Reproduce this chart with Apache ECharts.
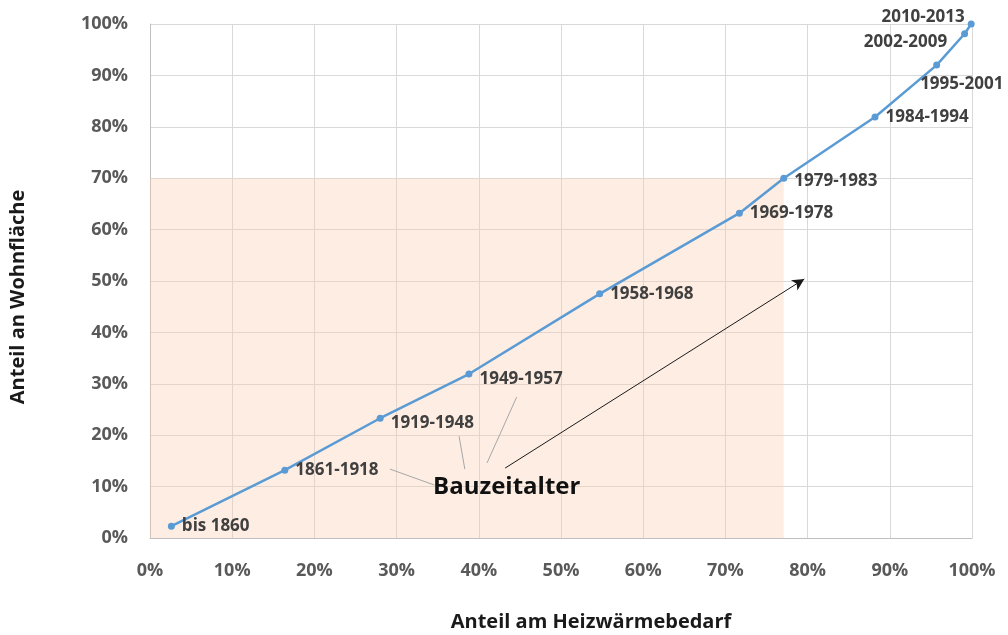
<!DOCTYPE html>
<html><head><meta charset="utf-8">
<script src="https://cdn.jsdelivr.net/npm/echarts@6/dist/echarts.min.js"></script>
<style>html,body{margin:0;padding:0;background:#fff}#c{width:1008px;height:635px}</style>
</head><body><div id="c"></div>
<script>
const periods = ['bis 1860','1861-1918','1919-1948','1949-1957','1958-1968','1969-1978','1979-1983','1984-1994','1995-2001','2002-2009','2010-2013'];
const heatShare = [2.6, 16.4, 28.0, 38.8, 54.7, 71.7, 77.1, 88.2, 95.7, 99.1, 99.9];
const areaShare = [2.3, 13.2, 23.3, 31.9, 47.5, 63.2, 70.0, 81.9, 92.0, 98.1, 100.0];
const xTicks = [0,10,20,30,40,50,60,70,80,90,100];
const yTicks = [0,10,20,30,40,50,60,70,80,90,100];
const shadeArea = [[0,0],[77.1,70]];
const arrowLine = [[43.2,13.6],[79.6,50.4]];
const leaderLines = [
  [[29.2,13.4],[34.6,10.3]],
  [[37.6,19.8],[38.3,13.4]],
  [[44.6,27.4],[41.0,14.6]]
];
const calloutLabel = {text:'Bauzeitalter', at:[43.4, 9.9]};

const labelPos = {
  '1919-1948': {offset:[0,5]},
  '1949-1957': {offset:[0,5]},
  '1979-1983': {offset:[0,3]},
  '1995-2001': {offset:[-27,19]},
  '2002-2009': {position:'left', offset:[-7,8]},
  '2010-2013': {position:'left', offset:[4,-7]}
};

const data = periods.map((p,i)=>{
  const o = labelPos[p] || {};
  return {value:[heatShare[i], areaShare[i]], name:p,
    label:{position:o.position||'right', offset:o.offset||[0,0]}};
});

const FONT = '"Open Sans"';
const chart = echarts.init(document.getElementById('c'));
const axisLab = {color:'#595959', fontSize:18, fontWeight:'bold', fontFamily:FONT, formatter: v=>v+'%'};
chart.setOption({
  animation:false,
  grid:{left:150, right:36, top:24, bottom:97},
  xAxis:{type:'value', min:0, max:100, interval:10,
    axisLine:{show:true, lineStyle:{color:'#bfbfbf'}}, axisTick:{show:false},
    splitLine:{lineStyle:{color:'#d9d9d9'}},
    axisLabel:Object.assign({margin:24}, axisLab)},
  yAxis:{type:'value', min:0, max:100, interval:10,
    axisLine:{show:true, lineStyle:{color:'#bfbfbf'}}, axisTick:{show:false},
    splitLine:{lineStyle:{color:'#d9d9d9'}},
    axisLabel:Object.assign({margin:22}, axisLab)},
  graphic:[
    {type:'text', x:591, y:622, style:{text:'Anteil am Heizwärmebedarf', fill:'#1a1a1a', font:'bold 20px "Open Sans"', align:'center', verticalAlign:'middle'}},
    {type:'text', x:18, y:297, rotation:Math.PI/2, style:{text:'Anteil an Wohnfläche', fill:'#1a1a1a', font:'bold 20px "Open Sans"', align:'center', verticalAlign:'middle'}}
  ],
  series:[{
    type:'line', data:data, symbol:'circle', symbolSize:7,
    lineStyle:{color:'#5b9bd5', width:2.5}, itemStyle:{color:'#5b9bd5'},
    label:{show:true, formatter:p=>p.name, color:'#404040', fontSize:17, fontWeight:'bold', fontFamily:FONT, distance:7},
    markArea:{silent:true, itemStyle:{color:'rgba(248,203,173,0.35)'},
      data:[[{coord:shadeArea[0]},{coord:shadeArea[1]}]]},
    markLine:{silent:true, symbol:['none','none'], label:{show:false}, animation:false,
      data:[
        [{coord:arrowLine[0], lineStyle:{color:'#1a1a1a', width:1, type:'solid'}, symbol:'none'},
         {coord:arrowLine[1], symbol:'arrow', symbolSize:[9,12]}],
        ...leaderLines.map(l=>[{coord:l[0], lineStyle:{color:'#a6a6a6', width:1, type:'solid'}},{coord:l[1]}])
      ]},
    markPoint:{silent:true, symbol:'circle', symbolSize:0,
      label:{show:true, formatter:calloutLabel.text, color:'#111', fontSize:24, fontWeight:'bold', fontFamily:FONT},
      data:[{coord:calloutLabel.at}]}
  }]
});
</script></body></html>
